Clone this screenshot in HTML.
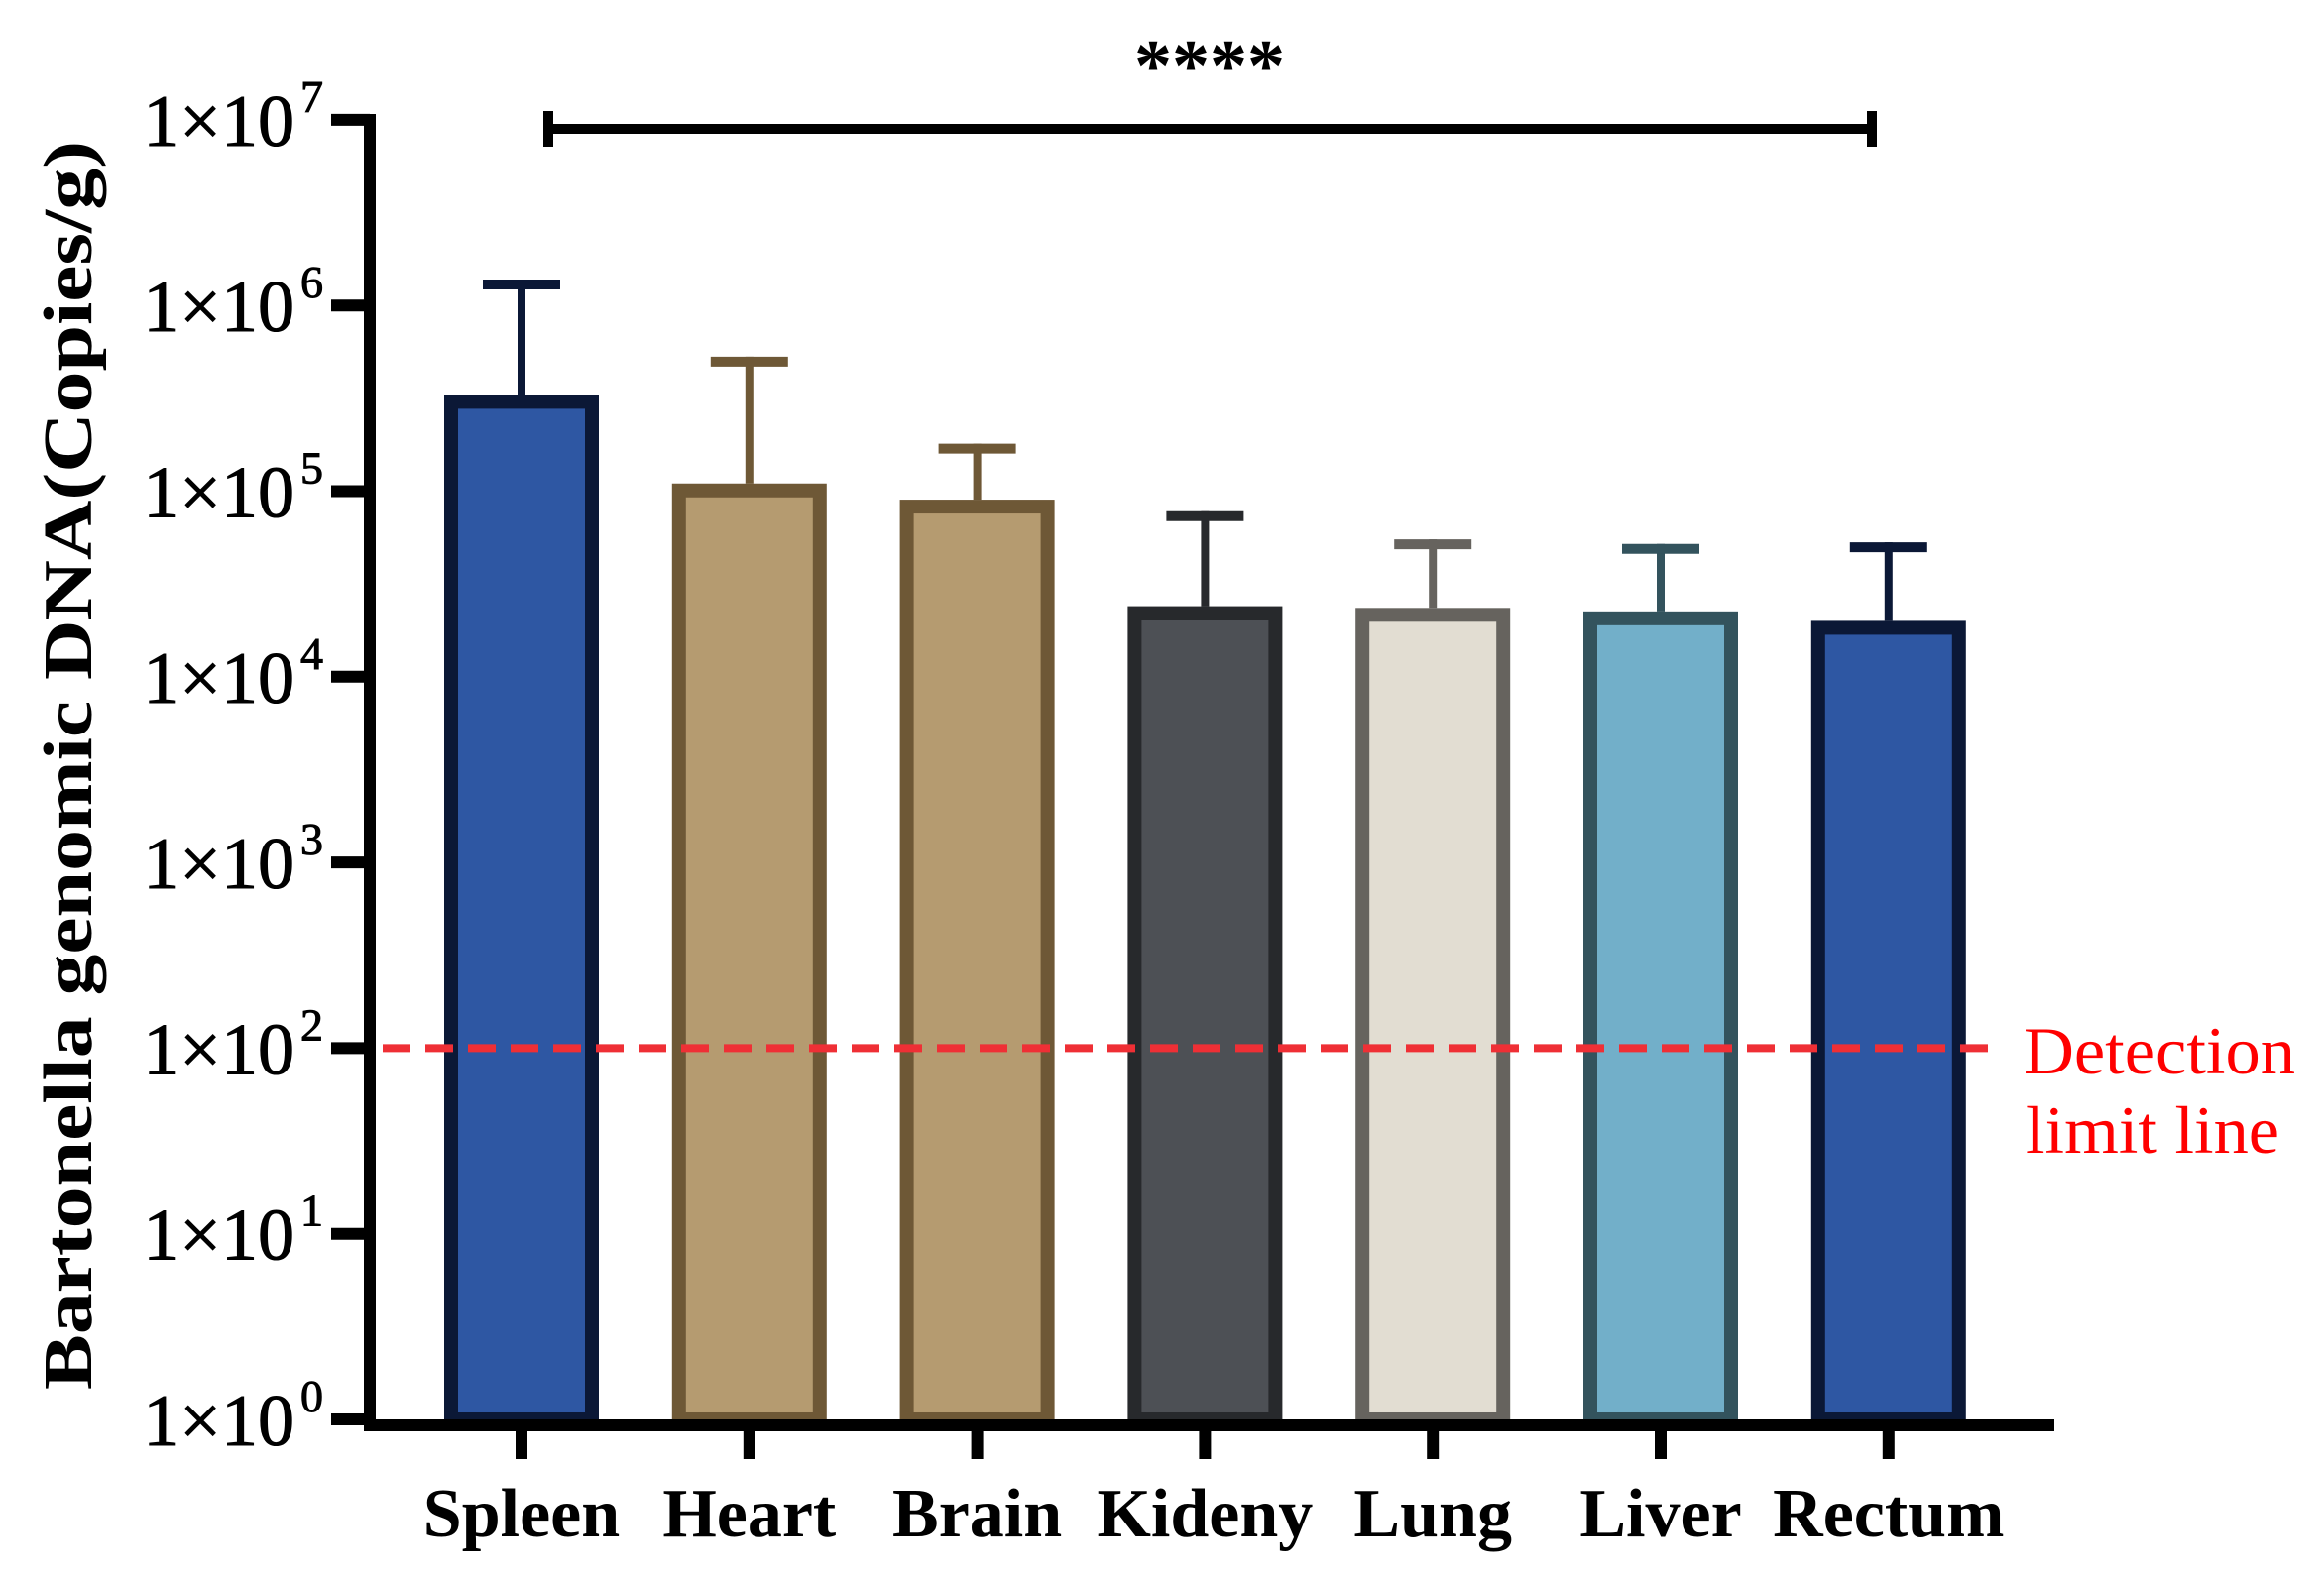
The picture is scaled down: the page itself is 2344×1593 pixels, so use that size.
<!DOCTYPE html>
<html><head><meta charset="utf-8"><style>
html,body{margin:0;padding:0;background:#fff;width:2344px;height:1593px;overflow:hidden}
svg{display:block;font-family:"Liberation Serif",serif}
</style></head><body>
<svg id="chart" width="2344" height="1593" viewBox="0 0 2344 1593">
<text transform="translate(92,772) rotate(-90)" text-anchor="middle" font-size="70" font-weight="bold" textLength="1260" lengthAdjust="spacingAndGlyphs">Bartonella genomic DNA(Copies/g)</text>
<g id="yaxis"></g>
<g id="bars"></g>
<g id="xaxis"></g>
<g id="overlay"></g>
</svg>
<script>
const categories = ["Spleen","Heart","Brain","Kideny","Lung","Liver","Rectum"];
const means = [330000,110000,90000,24000,23500,22500,20000];
const errTops = [1380000,530000,180000,78000,55000,52000,53000];
const tickExps = [0,1,2,3,4,5,6,7];
const detectionLimit = 100;
const fills = ["#2e57a3","#b59b70","#b59b70","#4d5055","#e2ddd2","#72afc9","#2e57a3"];
const strokes = ["#0b1836","#6e5836","#6e5836","#27292c","#66635e","#33535d","#0b1836"];

const NS="http://www.w3.org/2000/svg";
const Y0=1432, DEC=187.3, X0=526, DX=229.8, BW=142;
const yScale=v=>Y0-Math.log10(v)*DEC;
const xScale=i=>X0+i*DX;
function mk(tag,attrs,parent){const e=document.createElementNS(NS,tag);for(const k in attrs)e.setAttribute(k,attrs[k]);parent.appendChild(e);return e;}
const yaxis=document.getElementById('yaxis'),bars=document.getElementById('bars'),xaxis=document.getElementById('xaxis'),ov=document.getElementById('overlay');

categories.forEach((c,i)=>{
  const cx=xScale(i), top=yScale(means[i]), et=yScale(errTops[i]);
  const stem=mk('line',{x1:cx,x2:cx,y1:et,y2:top,stroke:strokes[i],'stroke-width':8},bars);
  
  
  const cap=mk('line',{x1:cx-39,x2:cx+39,y1:et+5,y2:et+5,stroke:strokes[i],'stroke-width':10},bars);
  
  
  const r=mk('rect',{x:cx-BW/2,y:top+7,width:BW,height:Y0-top-7,fill:fills[i],stroke:strokes[i],'stroke-width':14},bars);
  
  
});

const yl=mk('line',{x1:373,x2:373,y1:115,y2:1444,stroke:'#000','stroke-width':12},yaxis);


tickExps.forEach(e=>{
  const y=yScale(Math.pow(10,e));
  const t=mk('line',{x1:334,x2:373,y1:y,y2:y,stroke:'#000','stroke-width':12},yaxis);
  
  
  const tx=mk('text',{x:326,y:y+26,'text-anchor':'end','font-size':74,'stroke':'#000','stroke-width':1},yaxis);
  
  
  tx.appendChild(document.createTextNode('1×10'));
  const s=mk('tspan',{'font-size':46,dy:-34,dx:6},tx);
  s.textContent=String(e);
});

const xl=mk('line',{x1:367,x2:2072,y1:1438,y2:1438,stroke:'#000','stroke-width':12},xaxis);


categories.forEach((c,i)=>{
  const cx=xScale(i);
  const t=mk('line',{x1:cx,x2:cx,y1:1438,y2:1472,stroke:'#000','stroke-width':12},xaxis);
  
  
  const tx=mk('text',{x:cx,y:1550,'text-anchor':'middle','font-size':70,'font-weight':'bold'},xaxis);
  
  
  tx.textContent=c;
});

const dy=yScale(detectionLimit);
const dl=mk('line',{x1:386,x2:2010,y1:dy,y2:dy,stroke:'#ef2f35','stroke-width':8,'stroke-dasharray':'28 15'},ov);


const d1=mk('text',{x:2041,y:1083,fill:'#ff0000','font-size':68,textLength:274,lengthAdjust:'spacingAndGlyphs'},ov);


d1.textContent='Detection';
const d2=mk('text',{x:2043,y:1163,fill:'#ff0000','font-size':68,textLength:256,lengthAdjust:'spacingAndGlyphs'},ov);


d2.textContent='limit line';

const sb=mk('path',{d:'M553 112 V148 M553 130 H1888 M1888 112 V148',stroke:'#000','stroke-width':10,fill:'none'},ov);


const st=mk('text',{x:1220,y:92,'text-anchor':'middle','font-size':76,'font-weight':'bold'},ov);


st.textContent='****';
</script>
</body></html>
